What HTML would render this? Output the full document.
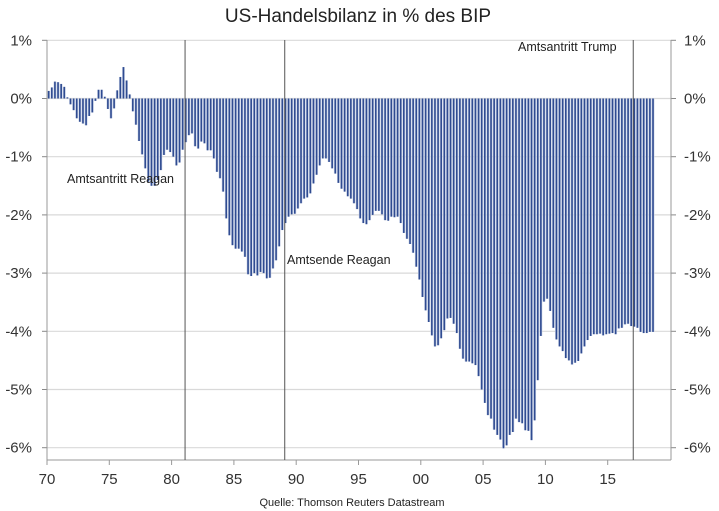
<!DOCTYPE html>
<html><head><meta charset="utf-8"><style>
body{margin:0;background:#fff;}
svg{display:block;font-family:"Liberation Sans",sans-serif;}
</style></head><body>
<svg id="chart" width="719" height="511" viewBox="0 0 719 511"></svg>
<script>
const years = [1970,1975,1980,1985,1990,1995,2000,2005,2010,2015];
const yearLabels = ["70","75","80","85","90","95","00","05","10","15"];
const yTicks = [1,0,-1,-2,-3,-4,-5,-6];
const yTickLabels = ["1%","0%","-1%","-2%","-3%","-4%","-5%","-6%"];
const events = [1981.08,1989.08,2017.05];
const eventLabels = ["Amtsantritt Reagan","Amtsende Reagan","Amtsantritt Trump"];
const startYear = 1970;
const values = [0.13,0.19,0.29,0.28,0.25,0.2,0.02,-0.1,-0.2,-0.34,-0.4,-0.43,-0.46,-0.3,-0.24,-0.04,0.15,0.15,0.03,-0.18,-0.34,-0.17,0.14,0.37,0.54,0.31,0.07,-0.22,-0.45,-0.73,-0.96,-1.2,-1.43,-1.5,-1.5,-1.4,-1.23,-0.97,-0.88,-0.92,-1.0,-1.15,-1.1,-0.88,
-0.75,
-0.63,-0.6,-0.82,-0.86,-0.74,-0.77,-0.89,-0.89,-1.03,-1.26,-1.37,-1.6,-2.06,-2.35,-2.52,-2.58,-2.58,-2.63,-2.72,-3.02,-3.05,-3.0,-3.04,-2.98,-3.0,-3.09,-3.08,-2.92,-2.78,-2.54,-2.26,-2.14,-2.03,-1.99,-1.98,-1.89,-1.8,-1.72,-1.7,
-1.63,-1.46,-1.31,-1.15,-1.03,-1.03,-1.09,-1.2,-1.29,-1.45,-1.55,-1.6,-1.68,-1.72,-1.8,-1.9,-2.06,-2.14,-2.16,-2.09,-2.0,-1.93,-1.93,-1.99,-2.09,-2.1,-2.03,-2.04,-2.03,-2.14,-2.31,-2.41,-2.5,-2.65,-2.89,-3.11,-3.41,-3.64,-3.84,-4.07,-4.26,-4.24,-4.12,-3.98,-3.78,-3.77,-3.87,-4.03,-4.3,-4.47,-4.52,-4.52,-4.55,-4.58,-4.77,-5.0,-5.23,-5.44,-5.5,-5.69,-5.78,
-5.86,-6.01,-5.96,-5.78,-5.73,-5.5,-5.56,-5.58,-5.7,-5.71,-5.87,
-5.53,-4.84,-4.08,-3.49,-3.44,-3.65,-3.94,-4.14,-4.26,-4.34,-4.46,-4.5,-4.57,-4.54,-4.51,-4.38,-4.26,-4.15,-4.08,-4.05,-4.05,-4.04,-4.07,-4.05,-4.04,-4.03,-4.05,-3.95,-3.94,-3.88,-3.87,-3.91,-3.92,-3.94,-4.01,-4.03,-4.03,-4.01,-4.01];

const NS="http://www.w3.org/2000/svg";
const svg=document.getElementById('chart');
const L=47,R=671,T=40,B=460;
const x=y=>L+(y-1970)*12.46;
const yv=v=>98.5-v*58.2;
function mk(tag,attrs,parent){const e=document.createElementNS(NS,tag);for(const k in attrs)e.setAttribute(k,attrs[k]);(parent||svg).appendChild(e);return e;}

let t=mk('text',{x:358,y:22,'text-anchor':'middle','font-size':19,fill:'#222'});
t.textContent='US-Handelsbilanz in % des BIP';



yTicks.forEach((v,i)=>{
  const g=mk('line',{x1:L,x2:R,y1:yv(v),y2:yv(v),stroke:'#d9d9d9','stroke-width':1.2});
  
  
  const a=mk('text',{x:32,y:yv(v)+5,'text-anchor':'end','font-size':15,fill:'#333'});
  a.textContent=yTickLabels[i];
  
  
  const b=mk('text',{x:684,y:yv(v)+5,'text-anchor':'start','font-size':15,fill:'#333'});
  b.textContent=yTickLabels[i];
  
  
  const tk=mk('line',{x1:R,x2:R+5,y1:yv(v),y2:yv(v),stroke:'#888'});
  
  
  const tl=mk('line',{x1:L-5,x2:L,y1:yv(v),y2:yv(v),stroke:'#888'});
  
  
});

const slot=12.46/4;
const bg=mk('g',{});


values.forEach((v,i)=>{
  const x0=x(startYear+i/4)+0.3;
  const y0=Math.min(yv(0),yv(v)), h=Math.abs(yv(v)-yv(0));
  const r=mk('rect',{x:x0,y:y0,width:slot-0.3,height:h,fill:'#ccd5e8'},bg);
  
  
  const d=mk('rect',{x:x0+0.6,y:y0,width:1.6,height:h,fill:'#2f4b91'},bg);
  
  
});

let ax=mk('line',{x1:L,x2:L,y1:T,y2:B,stroke:'#999'});


ax=mk('line',{x1:R,x2:R,y1:T,y2:B,stroke:'#999'});


ax=mk('line',{x1:L,x2:R,y1:B,y2:B,stroke:'#999'});



years.forEach((yr,i)=>{
  const tk=mk('line',{x1:x(yr),x2:x(yr),y1:B,y2:B+5,stroke:'#999'});
  
  
  const l=mk('text',{x:x(yr),y:B+24,'text-anchor':'middle','font-size':15,fill:'#333'});
  l.textContent=yearLabels[i];
  
  
});

const labelPos=[[67,183],[287,264],[518,51]];
events.forEach((e,i)=>{
  const ln=mk('line',{x1:x(e),x2:x(e),y1:T,y2:B,stroke:'#555','stroke-width':1});
  
  
  const tx=mk('text',{x:labelPos[i][0],y:labelPos[i][1],'font-size':12.5,fill:'#222'});
  tx.textContent=eventLabels[i];
  
  
});

const src=mk('text',{x:352,y:506,'text-anchor':'middle','font-size':11,fill:'#222'});
src.textContent='Quelle: Thomson Reuters Datastream';


</script>
</body></html>
